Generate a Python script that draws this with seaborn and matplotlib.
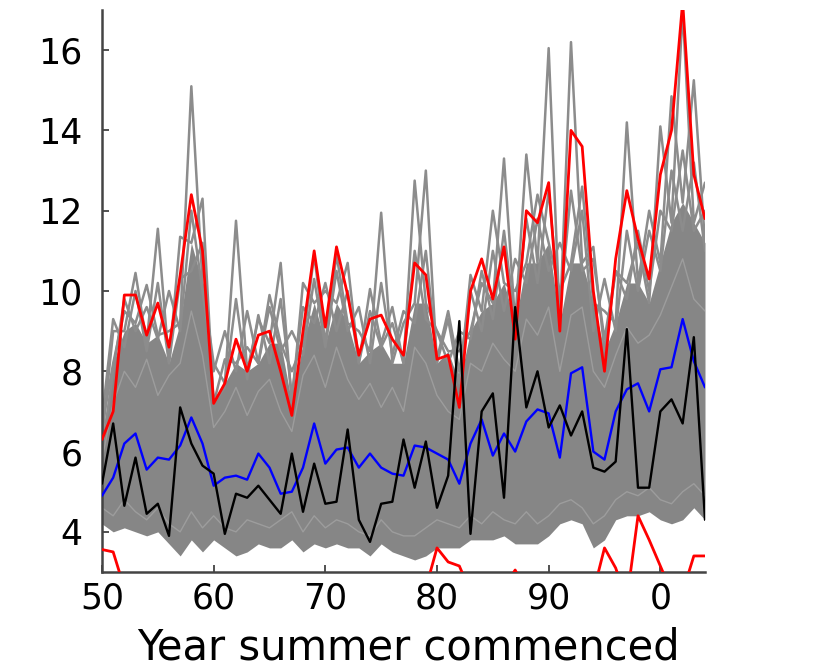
import numpy as np
import pandas as pd
import matplotlib
matplotlib.use("Agg")
import matplotlib.pyplot as plt
import seaborn as sns

years = list(range(1950, 2005))

red_upper = [6.3, 7.0, 9.9, 9.9, 8.9, 9.7, 8.6, 10.4, 12.4, 11.0,
             7.2, 7.7, 8.8, 8.0, 8.9, 9.0, 8.0, 6.9, 9.0, 11.0,
             9.1, 11.1, 9.9, 8.4, 9.3, 9.4, 8.8, 8.4, 10.7, 10.4,
             8.3, 8.4, 7.1, 10.0, 10.8, 9.8, 11.1, 8.8, 12.0, 11.7,
             12.7, 9.0, 14.0, 13.6, 10.0, 8.0, 10.8, 12.5, 11.3, 10.3,
             12.9, 14.0, 17.2, 12.9, 11.8]

red_lower = [3.56, 3.5, 2.6, 2.95, 2.5, 2.4, 2.4, 2.4, 2.4, 2.4,
             2.4, 2.4, 2.4, 2.4, 2.4, 2.4, 2.4, 2.4, 2.4, 2.4,
             2.4, 2.4, 2.4, 2.4, 2.4, 2.4, 2.4, 2.4, 2.4, 2.6,
             3.6, 3.25, 3.15, 2.5, 2.4, 2.4, 2.6, 3.05, 2.5, 2.4,
             2.4, 2.4, 2.4, 2.4, 2.5, 3.6, 3.1, 2.3, 4.4, 3.8,
             3.15, 2.5, 2.5, 3.4, 3.4]

ens_mean = [4.9, 5.35, 6.2, 6.45, 5.55, 5.85, 5.8, 6.15, 6.85, 6.2,
            5.15, 5.35, 5.4, 5.3, 5.95, 5.6, 4.95, 5.0, 5.6, 6.7,
            5.7, 6.05, 6.1, 5.6, 5.95, 5.6, 5.45, 5.4, 6.15, 6.1,
            5.95, 5.8, 5.2, 6.2, 6.8, 5.9, 6.45, 6.0, 6.75, 7.05,
            6.95, 5.85, 7.95, 8.1, 6.0, 5.8, 7.0, 7.55, 7.7, 7.0,
            8.05, 8.1, 9.3, 8.25, 7.6]

observed = [5.2, 6.7, 4.65, 5.85, 4.45, 4.7, 3.9, 7.1, 6.2, 5.65,
            5.45, 3.95, 4.95, 4.85, 5.15, 4.8, 4.45, 5.95, 4.5, 5.7,
            4.7, 4.75, 6.55, 4.3, 3.75, 4.7, 4.75, 6.3, 5.1, 6.25,
            4.6, 5.4, 9.25, 3.95, 7.0, 7.45, 4.85, 9.6, 7.1, 8.0,
            6.6, 7.15, 6.4, 7.0, 5.6, 5.5, 5.75, 9.05, 5.1, 5.1,
            7.0, 7.3, 6.7, 8.85, 4.3]

gray_top = [6.3, 8.2, 9.0, 9.2, 8.7, 8.9, 8.2, 9.2, 11.2, 10.2,
            7.2, 7.7, 8.2, 8.0, 8.2, 8.7, 8.7, 7.2, 8.7, 9.7,
            8.7, 9.7, 9.2, 8.2, 8.5, 8.7, 8.2, 8.2, 9.7, 9.7,
            8.2, 8.5, 7.7, 9.0, 9.5, 9.7, 10.2, 9.2, 10.7, 10.7,
            11.2, 9.2, 10.7, 10.7, 9.7, 8.5, 9.2, 10.2, 10.2, 9.7,
            10.7, 11.7, 12.2, 11.7, 11.2]

gray_bottom = [4.2, 4.0, 4.1, 4.0, 3.9, 4.0, 3.7, 3.4, 3.8, 3.5,
               3.8, 3.6, 3.4, 3.5, 3.7, 3.6, 3.6, 3.8, 3.5, 3.7,
               3.6, 3.7, 3.6, 3.6, 3.4, 3.7, 3.5, 3.4, 3.3, 3.4,
               3.6, 3.6, 3.6, 3.8, 3.8, 3.8, 3.9, 3.7, 3.7, 3.7,
               3.9, 4.2, 4.3, 4.2, 3.6, 3.8, 4.3, 4.4, 4.4, 4.5,
               4.3, 4.2, 4.3, 4.6, 4.3]

gray_peak = [6.6, 9.0, 9.5, 10.45, 10.15, 11.55, 9.0, 11.35, 15.1, 12.3,
             8.2, 8.3, 11.75, 8.6, 9.3, 9.9, 10.7, 8.0, 10.2, 10.9,
             10.0, 10.9, 10.7, 9.0, 10.05, 11.95, 9.6, 9.2, 12.75, 13.0,
             9.0, 9.3, 8.5, 10.4, 10.2, 12.0, 13.3, 10.0, 13.4, 12.4,
             16.05, 10.0, 16.2, 12.6, 11.1, 9.5, 10.5, 14.2, 11.2, 12.0,
             14.1, 14.85, 17.0, 15.25, 12.7]

gray_member1 = [6.0, 8.0, 9.8, 9.0, 9.6, 8.8, 10.0, 9.0, 12.0, 10.0,
                8.0, 9.0, 8.0, 9.5, 8.2, 9.6, 8.5, 9.0, 8.4, 10.3,
                8.6, 10.5, 9.0, 9.6, 8.2, 10.2, 8.4, 9.5, 9.2, 11.0,
                8.3, 9.5, 8.0, 10.0, 9.0, 11.0, 9.5, 10.8, 10.2, 11.8,
                10.5, 11.2, 10.5, 12.0, 9.0, 10.3, 9.0, 11.5, 10.0, 11.5,
                10.5, 13.0, 11.5, 13.2, 11.0]

gray_member2 = [6.8, 9.3, 8.6, 10.0, 8.5, 10.2, 8.2, 10.3, 10.5, 11.2,
                7.2, 7.6, 9.8, 7.8, 9.4, 8.2, 9.8, 7.4, 9.6, 9.2,
                10.2, 9.0, 10.0, 8.2, 9.5, 8.6, 9.2, 8.2, 11.0, 9.3,
                9.0, 8.2, 9.0, 8.8, 10.5, 9.3, 11.5, 9.2, 11.8, 10.2,
                12.5, 9.5, 12.5, 10.5, 10.8, 8.8, 10.5, 9.8, 11.5, 10.0,
                12.0, 11.5, 13.5, 11.5, 12.0]

light_member1 = [5.8, 7.2, 8.0, 7.6, 8.3, 7.4, 7.9, 8.2, 9.5, 8.4,
                 6.6, 7.0, 7.6, 6.9, 7.5, 7.8, 7.0, 6.5, 7.9, 8.4,
                 7.6, 8.6, 7.8, 7.3, 7.7, 7.1, 7.6, 7.0, 8.6, 8.2,
                 7.4, 7.0, 6.8, 8.2, 8.0, 8.7, 8.3, 8.0, 9.3, 8.9,
                 9.6, 8.0, 9.4, 9.6, 8.0, 7.6, 8.4, 9.1, 8.7, 8.9,
                 9.4, 10.1, 10.8, 9.8, 9.5]

light_member2 = [4.6, 4.4, 4.8, 4.5, 4.3, 4.6, 4.2, 4.0, 4.5, 4.1,
                 4.4, 4.1, 4.0, 4.3, 4.2, 4.1, 4.3, 4.5, 4.0, 4.4,
                 4.1, 4.3, 4.2, 4.0, 3.9, 4.3, 4.0, 3.9, 3.9, 4.1,
                 4.3, 4.2, 4.1, 4.4, 4.2, 4.5, 4.3, 4.2, 4.5, 4.2,
                 4.4, 4.7, 4.8, 4.6, 4.2, 4.4, 4.8, 5.0, 4.9, 5.1,
                 4.8, 4.7, 5.0, 5.2, 4.9]

xtick_pos = [1950, 1960, 1970, 1980, 1990, 2000]
xtick_labels = ["50", "60", "70", "80", "90", "0"]
ytick_pos = [4, 6, 8, 10, 12, 14, 16]

sns.set_theme(style="white")
plt.rcParams["font.family"] = ["DejaVu Sans"]
plt.rcParams["text.color"] = "black"
plt.rcParams["axes.labelcolor"] = "black"

fig = plt.figure(figsize=(8.17, 6.71), dpi=100)
ax = fig.add_axes([102 / 817, 99 / 671, 603 / 817, 562 / 671])

yr = np.array(years)
# dense grey ensemble band
ax.fill_between(yr, gray_bottom, gray_top, color="#868686", lw=0, zorder=1)

# individual grey members along the jagged top of the ensemble
spike_a = [p if (y % 2 == 0) else t for y, p, t in zip(years, gray_peak, gray_top)]
spike_b = [p if (y % 2 == 1) else t for y, p, t in zip(years, gray_peak, gray_top)]
n = len(years)
df_sp = pd.DataFrame({"year": years * 4,
                      "value": spike_a + spike_b + gray_member1 + gray_member2,
                      "member": ["a"] * n + ["b"] * n + ["c"] * n + ["d"] * n})
sns.lineplot(data=df_sp, x="year", y="value", units="member", estimator=None,
             color="#8c8c8c", lw=1.8, ax=ax, legend=False, zorder=2)

# lighter members giving the streaky texture inside the band
df_lt = pd.DataFrame({"year": years * 2,
                      "value": light_member1 + light_member2,
                      "member": ["e"] * n + ["f"] * n})
sns.lineplot(data=df_lt, x="year", y="value", units="member", estimator=None,
             color="#9d9d9d", lw=1.0, ax=ax, legend=False, zorder=2)

df = pd.DataFrame({"year": years, "red_upper": red_upper, "red_lower": red_lower,
                   "mean": ens_mean, "obs": observed})
sns.lineplot(data=df, x="year", y="red_upper", color="#ff0000", lw=2.0, ax=ax, zorder=3)
sns.lineplot(data=df, x="year", y="red_lower", color="#ff0000", lw=2.0, ax=ax, zorder=3)
sns.lineplot(data=df, x="year", y="mean", color="#0000ff", lw=1.7, ax=ax, zorder=4)
sns.lineplot(data=df, x="year", y="obs", color="#000000", lw=1.7, ax=ax, zorder=5)

ax.set_xlim(1950, 2004)
ax.set_ylim(3, 17)
ax.set_xticks(xtick_pos)
ax.set_xticklabels(xtick_labels)
ax.set_yticks(ytick_pos)
ax.set_ylabel("")
ax.set_xlabel("Year summer commenced", fontsize=30, color="black")
ax.xaxis.label.set_verticalalignment("bottom")
ax.xaxis.set_label_coords((408 - 102) / 603, (2 - 99) / 562)

ax.tick_params(axis="both", direction="in", length=5, width=1.2, color="#333333",
               labelsize=25, labelcolor="black")
ax.tick_params(axis="y", pad=14)
ax.tick_params(axis="x", pad=7)
ax.tick_params(bottom=True, left=True)

for side in ["top", "right"]:
    ax.spines[side].set_visible(False)
for side in ["left", "bottom"]:
    ax.spines[side].set_color("#444444")
    ax.spines[side].set_linewidth(1.8)

fig.savefig("out.png", dpi=100)
